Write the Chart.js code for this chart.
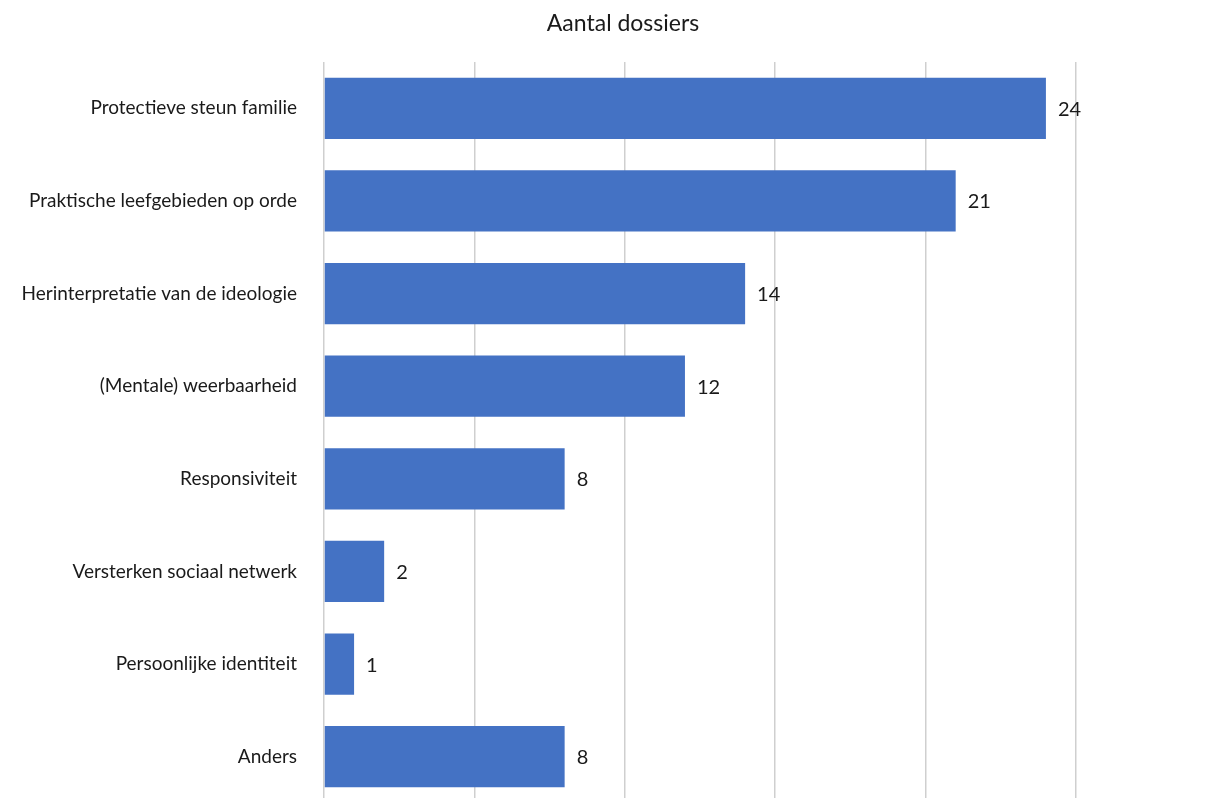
<!DOCTYPE html>
<html>
<head>
<meta charset="utf-8">
<script src="https://cdn.jsdelivr.net/npm/chart.js@4/dist/chart.umd.min.js"></script>
<style>
  html, body { margin: 0; padding: 0; background: #fff; overflow: hidden; }
</style>
</head>
<body>
<canvas id="bars" width="1220" height="803"></canvas>
<script>
const categories = [
  'Protectieve steun familie',
  'Praktische leefgebieden op orde',
  'Herinterpretatie van de ideologie',
  '(Mentale) weerbaarheid',
  'Responsiviteit',
  'Versterken sociaal netwerk',
  'Persoonlijke identiteit',
  'Anders'
];
const dossiers = [24, 21, 14, 12, 8, 2, 1, 8];
const chartTitle = 'Aantal dossiers';

const FONT = "Lato, 'Open Sans', sans-serif";

// title centred over the picture, number next to each bar
const extras = {
  id: 'extras',
  afterDatasetsDraw(chart) {
    const ctx = chart.ctx;
    const meta = chart.getDatasetMeta(0);
    ctx.save();
    ctx.font = '20px ' + FONT;
    ctx.fillStyle = '#1a1a1a';
    ctx.textAlign = 'left';
    ctx.textBaseline = 'middle';
    meta.data.forEach((bar, i) => {
      ctx.fillText(String(dossiers[i]), bar.x + 12, bar.y + 1);
    });
    ctx.font = '23px ' + FONT;
    ctx.textAlign = 'center';
    ctx.fillText(chartTitle, 623, 24);
    ctx.restore();
  }
};

const ctx = document.getElementById('bars').getContext('2d');
const myChart = new Chart(ctx, {
  type: 'bar',
  data: {
    labels: categories,
    datasets: [{
      label: chartTitle,
      data: dossiers,
      backgroundColor: '#4472C4',
      borderWidth: 0,
      barPercentage: 0.66,
      categoryPercentage: 1
    }]
  },
  options: {
    indexAxis: 'y',
    responsive: false,
    animation: false,
    layout: { padding: { left: 0, right: 144, top: 62, bottom: 0 } },
    plugins: {
      legend: { display: false },
      tooltip: { enabled: false },
      title: { display: false }
    },
    scales: {
      x: {
        min: 0,
        max: 25,
        ticks: { stepSize: 5, display: false },
        grid: { color: '#cfcfcf', lineWidth: 1.5, drawTicks: false },
        border: { display: false },
        afterFit(scale) { scale.height = 0; }
      },
      y: {
        grid: { display: false },
        border: { display: false },
        ticks: {
          color: '#1a1a1a',
          padding: 19,
          font: { family: FONT, size: 19 }
        },
        afterFit(scale) {
          scale.width = 324;
          // let the plot run to the bottom edge like the original
          scale.paddingTop = 0;
          scale.paddingBottom = 0;
        }
      }
    }
  },
  plugins: [extras]
});
</script>
</body>
</html>
